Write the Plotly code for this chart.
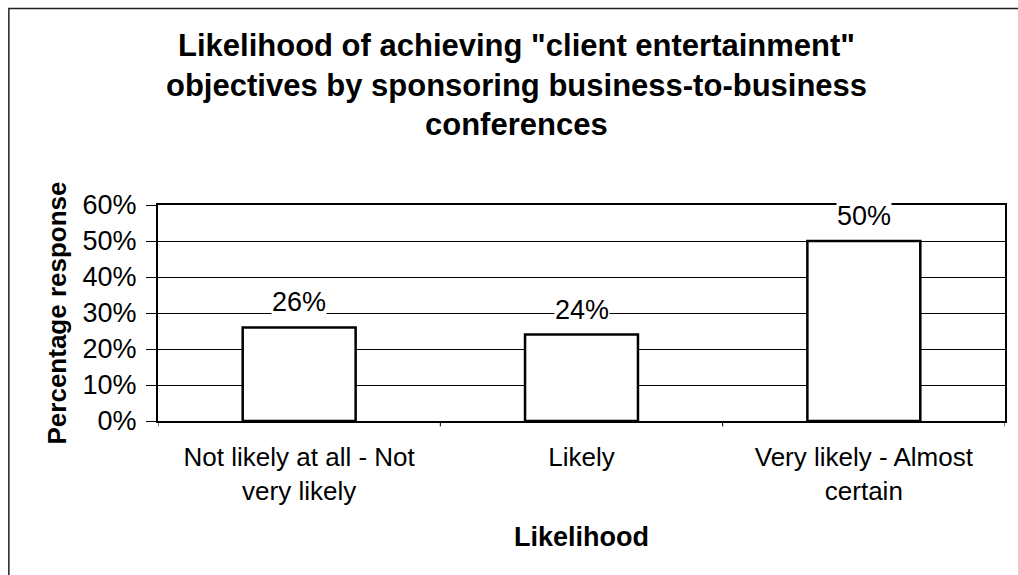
import plotly.graph_objects as go

categories = ["Not likely at all - Not<br>very likely", "Likely", "Very likely - Almost<br>certain"]
values = [26, 24, 50]
labels = ["26%", "24%", "50%"]
title_lines = ['Likelihood of achieving "client entertainment"',
               'objectives by sponsoring business-to-business',
               'conferences']
y_ticks = [0, 10, 20, 30, 40, 50, 60]
y_ticktext = ["0%", "10%", "20%", "30%", "40%", "50%", "60%"]

FONT = "Liberation Sans, Arial, sans-serif"

fig = go.Figure()
fig.add_trace(go.Bar(
    x=[0, 1, 2], y=values, width=0.4,
    marker=dict(color="white", line=dict(color="black", width=2.5)),
    showlegend=False, hoverinfo="skip",
))

for i, (v, t) in enumerate(zip(values, labels)):
    fig.add_annotation(x=i, y=v, text=t, showarrow=False, yanchor="bottom",
                       yshift=9, bgcolor="white", borderpad=0,
                       font=dict(family=FONT, size=27, color="black"))

L, R, T, B = 158, 1007, 205, 421
W, H = 1018, 575
pw, ph = R - L, B - T

def px_x(x):
    return (x - L) / pw

def px_y(y):
    return (B - y) / ph

title_y = [45, 85, 125]
for line, yy in zip(title_lines, title_y):
    fig.add_annotation(xref="paper", yref="paper", x=px_x(517), y=px_y(yy),
                       text="<b>%s</b>" % line, showarrow=False,
                       xanchor="center", yanchor="middle",
                       font=dict(family=FONT, size=31, color="black"))

# outer frame (only left and top edges are inside the picture)
fig.add_shape(type="rect", xref="paper", yref="paper",
              x0=px_x(8.5), x1=px_x(1030), y0=px_y(590), y1=px_y(8.5),
              line=dict(color="#222", width=1.5))

fig.update_layout(
    width=W, height=H,
    margin=dict(l=L, r=W - R, t=T, b=H - B),
    paper_bgcolor="white", plot_bgcolor="white",
    font=dict(family=FONT, color="black"),
    bargap=0.6,
    xaxis=dict(
        range=[-0.5, 2.5], tickmode="array", tickvals=[0, 1, 2], ticktext=categories,
        showgrid=False, zeroline=False, showline=True, linecolor="black", linewidth=2,
        mirror=True, ticks="", tickfont=dict(size=26, family=FONT),
        ticklabelstandoff=12,
        title=dict(text="<b>Likelihood</b>", font=dict(size=27, family=FONT), standoff=22),
    ),
    yaxis=dict(
        range=[0, 60], tickmode="array", tickvals=y_ticks, ticktext=y_ticktext,
        showgrid=True, gridcolor="black", gridwidth=1, zeroline=False,
        showline=True, linecolor="black", linewidth=2, mirror=True,
        ticks="outside", ticklen=10, tickcolor="black",
        tickfont=dict(size=27, family=FONT), ticklabelstandoff=4,
        title=dict(text="<b>Percentage response</b>", font=dict(size=26, family=FONT), standoff=8),
    ),
)

# category boundary ticks on x axis
for xb in [-0.5, 0.5, 1.5, 2.5]:
    fig.add_shape(type="line", xref="x", yref="paper", x0=xb, x1=xb,
                  y0=0, y1=-0.025, line=dict(color="black", width=1))

fig.write_html("out.html")
